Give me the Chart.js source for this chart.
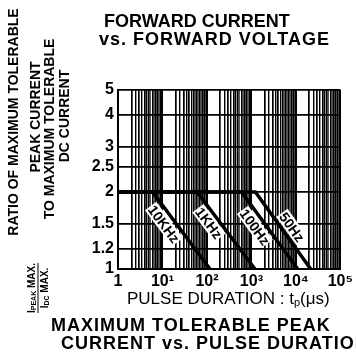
<!DOCTYPE html>
<html lang="en">
<head>
<meta charset="UTF-8">
<title>Maximum Tolerable Peak Current vs. Pulse Duration</title>
<script src="https://cdn.jsdelivr.net/npm/chart.js"></script>
<style>
    body { margin: 0; background: #fff; }
    .wrap {
        position: relative;
        width: 356px;
        height: 356px;
        overflow: hidden;
        font-family: "Liberation Sans", Arial, sans-serif;
        color: #000;
    }
    #chart { position: absolute; left: 0; top: 0; }
    .txt { position: absolute; white-space: nowrap; line-height: 1; }
    .head { font-weight: bold; font-size: 18px; }
    .spaced { letter-spacing: 1px; }
    .xtitle { font-size: 17px; }
    .xtitle sub { font-size: 11px; vertical-align: -2px; }
    .rot {
        font-weight: bold;
        font-size: 14px;
        transform: translate(-50%, -50%) rotate(-90deg);
    }
    .frac {
        font-weight: bold;
        font-size: 10px;
        text-align: center;
        transform: translate(-50%, -50%) rotate(-90deg);
    }
    .frac .num { border-bottom: 1px solid #000; padding-bottom: 1px; }
    .frac .den { padding-top: 1px; }
    .frac sub { font-size: 7px; vertical-align: -1px; }
    .freq {
        font-weight: bold;
        font-size: 14px;
        background: #fff;
        padding: 0 1px;
    }
</style>
</head>
<body>
<div class="wrap" id="wrap">
    <canvas id="chart" width="356" height="356"></canvas>

    <div class="txt head" style="left:104px;top:12px">FORWARD CURRENT</div>
    <div class="txt head spaced" style="left:99px;top:30px">vs. FORWARD VOLTAGE</div>

    <div class="txt rot" style="left:13px;top:122px">RATIO OF MAXIMUM TOLERABLE</div>
    <div class="txt rot" style="left:35px;top:117px">PEAK CURRENT</div>
    <div class="txt rot" style="left:49px;top:129px">TO MAXIMUM TOLERABLE</div>
    <div class="txt rot" style="left:64px;top:116px">DC CURRENT</div>

    <div class="txt frac" style="left:38px;top:288px">
        <div class="num">I<sub>PEAK</sub> MAX.</div>
        <div class="den">I<sub>DC</sub> MAX.</div>
    </div>

    <div class="txt xtitle" style="left:127px;top:290px">PULSE DURATION : t<sub>p</sub>(μs)</div>
    <div class="txt head spaced" style="left:51px;top:316px">MAXIMUM TOLERABLE PEAK</div>
    <div class="txt head spaced" style="left:61px;top:334px">CURRENT vs. PULSE DURATION</div>
</div>

<script>
    // y axis: ratio Ipeak max / Idc max
    const ratioTicks = [1, 1.2, 1.5, 2, 2.5, 3, 4, 5];
    // x axis: pulse duration in microseconds
    const decades = [1, 10, 100, 1000, 10000, 100000];
    const decadeLabels = ['1', '10¹', '10²', '10³', '10⁴', '10⁵'];
    const gridSteps = [2, 2.5, 3, 3.5, 4, 4.5, 5, 5.5, 6, 6.5, 7, 7.5, 8, 8.5, 9, 9.5];

    // one curve per repetition frequency
    const freqNames = ['10KHz', '1KHz', '100Hz', '50Hz'];
    const kneeUs = [6, 60, 600, 1230];
    const endUs = [117, 1200, 11000, 21500];
    const flatRatio = 2;
    const endRatio = 1;
    const labelRatio = [1.58, 1.59, 1.54, 1.39];

    const xTicks = [];
    decades.slice(0, -1).forEach(d => {
        xTicks.push(d);
        gridSteps.forEach(m => xTicks.push(d * m));
    });
    xTicks.push(decades[decades.length - 1]);

    function gridStyle(v) {
        if (decades.includes(v)) return { w: 2, c: '#000' };
        const m = v / Math.pow(10, Math.floor(Math.log10(v) + 1e-9));
        if (Number.isInteger(Math.round(m * 1000) / 1000)) return { w: 1.7, c: '#000' };
        if (m < 5) return { w: 1.4, c: '#000' };
        return { w: 0.9, c: '#444' };
    }

    const datasets = freqNames.map((name, i) => ({
        label: name,
        data: [
            { x: decades[0], y: flatRatio },
            { x: kneeUs[i], y: flatRatio },
            { x: endUs[i], y: endRatio }
        ],
        borderColor: '#000',
        borderWidth: 3.5,
        pointRadius: 0,
        fill: false,
        tension: 0
    }));

    const tickFont = { family: '"Liberation Sans", Arial, sans-serif', size: 16, weight: 'bold' };

    const chart = new Chart(document.getElementById('chart'), {
        type: 'line',
        data: { datasets },
        options: {
            responsive: false,
            animation: false,
            layout: { padding: { top: 90, right: 14, left: 0, bottom: 0 } },
            plugins: { legend: { display: false }, tooltip: { enabled: false } },
            scales: {
                x: {
                    type: 'logarithmic',
                    min: 1,
                    max: 100000,
                    afterBuildTicks: s => { s.ticks = xTicks.map(v => ({ value: v })); },
                    afterFit: s => { s.height = 87; },
                    border: { display: true, color: '#000', width: 2 },
                    grid: {
                        drawTicks: false,
                        color: c => gridStyle(c.tick.value).c,
                        lineWidth: c => gridStyle(c.tick.value).w
                    },
                    ticks: {
                        autoSkip: false,
                        maxRotation: 0,
                        padding: 3,
                        color: '#000',
                        font: tickFont,
                        callback: v => {
                            const k = decades.indexOf(v);
                            return k >= 0 ? decadeLabels[k] : '';
                        }
                    }
                },
                y: {
                    type: 'logarithmic',
                    min: 1,
                    max: 5,
                    afterBuildTicks: s => { s.ticks = ratioTicks.map(v => ({ value: v })); },
                    afterFit: s => { s.width = 118; },
                    border: { display: true, color: '#000', width: 2 },
                    grid: { drawTicks: false, color: '#000', lineWidth: 1.7 },
                    ticks: {
                        autoSkip: false,
                        padding: 4,
                        color: '#000',
                        font: tickFont,
                        callback: v => String(v)
                    }
                }
            }
        }
    });

    // frequency labels along each falling line
    const wrap = document.getElementById('wrap');
    const xs = chart.scales.x, ys = chart.scales.y;
    freqNames.forEach((name, i) => {
        const x0 = xs.getPixelForValue(kneeUs[i]), y0 = ys.getPixelForValue(flatRatio);
        const x1 = xs.getPixelForValue(endUs[i]), y1 = ys.getPixelForValue(endRatio);
        const a = Math.atan2(y1 - y0, x1 - x0);
        const t = Math.log(flatRatio / labelRatio[i]) / Math.log(flatRatio / endRatio);
        const px = x0 + t * (x1 - x0), py = y0 + t * (y1 - y0);
        const side = i === freqNames.length - 1 ? -1 : 1;
        const cx = px - Math.sin(a) * 9.5 * side;
        const cy = py + Math.cos(a) * 9.5 * side;
        const el = document.createElement('div');
        el.className = 'txt freq';
        el.textContent = name;
        el.style.left = cx + 'px';
        el.style.top = cy + 'px';
        el.style.transform = `translate(-50%, -50%) rotate(${a}rad)`;
        wrap.appendChild(el);
    });
</script>
</body>
</html>
